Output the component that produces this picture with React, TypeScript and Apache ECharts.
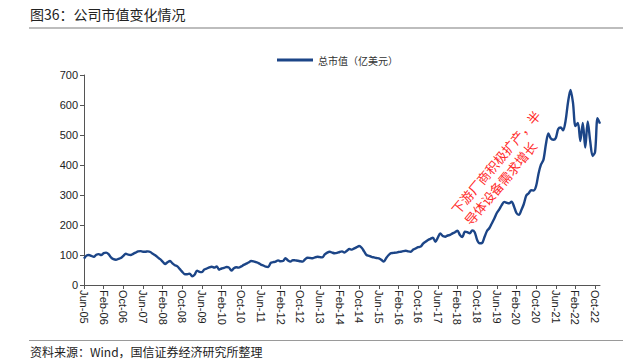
import React, { useEffect, useRef } from "react";
import * as echarts from "echarts";

const TITLE = "图36：公司市值变化情况";
const SOURCE = "资料来源：Wind，国信证券经济研究所整理";
const SERIES_NAME = "总市值（亿美元）";
const NOTE_LINES = ["下游厂商积极扩产，半", "导体设备需求增长"];

const MONTHS = ["Jan", "Feb", "Mar", "Apr", "May", "Jun", "Jul", "Aug", "Sep", "Oct", "Nov", "Dec"];
// Monthly from Jun-05 to Dec-22
const START_YEAR = 2005;
const START_MONTH = 5; // June (0-based)

const VALUES: number[] = [
  88, 98, 100, 97, 94, 101, 103, 100, 106, 108,
  103, 92, 86, 84, 87, 90, 97, 104, 101, 100,
  104, 108, 112, 113, 111, 111, 112, 110, 104, 99,
  92, 86, 78, 70, 76, 80, 72, 66, 62, 53,
  44, 36, 36, 38, 29, 34, 48, 44, 43, 52,
  55, 59, 61, 58, 62, 51, 55, 57, 60, 58,
  48, 56, 59, 58, 62, 67, 71, 75, 80, 79,
  76, 73, 68, 65, 61, 60, 74, 76, 78, 82,
  79, 80, 89, 82, 78, 83, 82, 81, 79, 78,
  86, 91, 90, 89, 92, 94, 93, 92, 102, 108,
  111, 108, 106, 107, 110, 112, 108, 114, 120, 118,
  122, 126, 130, 124, 112, 100, 97, 94, 92, 90,
  89, 84, 78, 90, 100, 106, 107, 108, 110, 111,
  113, 114, 112, 111, 118, 122, 126, 128, 138, 144,
  150, 154, 158, 144, 158, 172, 163, 161, 165, 167,
  172, 176, 181, 167, 160, 178, 176, 172, 182, 176,
  150, 139, 140, 160, 180, 190, 206, 222, 240, 252,
  266, 277, 274, 272, 278, 262, 240, 234, 250, 270,
  298, 306, 316, 315, 330, 372, 402, 418, 470, 505,
  488, 484, 490, 520, 525, 516, 548, 610, 650, 608,
  530, 540, 480, 540, 458, 545, 480, 430, 444, 556,
  538,
];

const CATEGORIES: string[] = VALUES.map((_, i) => {
  const m = START_MONTH + i;
  const y = START_YEAR + Math.floor(m / 12);
  return `${MONTHS[m % 12]}-${String(y % 100).padStart(2, "0")}`;
});

const Y_TICKS = [0, 100, 200, 300, 400, 500, 600, 700];

export default function App() {
  const ref = useRef<HTMLDivElement>(null);
  useEffect(() => {
    if (!ref.current) return;
    const chart = echarts.init(ref.current, null, { renderer: "svg" });
    const rot = (50 * Math.PI) / 180;
    chart.setOption({
      animation: false,
      backgroundColor: "#ffffff",
      textStyle: { fontFamily: "Liberation Sans, Arial, sans-serif" },
      grid: { left: 84, right: 30, top: 75, bottom: 76, containLabel: false },
      legend: {
        top: 50,
        left: 272,
        itemWidth: 36,
        itemHeight: 3,
        itemGap: 4,
        icon: "rect",
        data: [SERIES_NAME],
        textStyle: { fontFamily: "Noto Sans CJK SC", fontSize: 10, color: "#333" },
      },
      xAxis: {
        type: "category",
        data: CATEGORIES,
        boundaryGap: false,
        axisLine: { lineStyle: { color: "#555", width: 1 } },
        axisTick: { interval: 7, length: 4, lineStyle: { color: "#555" } },
        axisLabel: {
          interval: 7,
          rotate: -90,
          fontSize: 11,
          color: "#222",
          margin: 5,
          fontFamily: "Liberation Sans, Arial, sans-serif",
        },
        splitLine: { show: false },
      },
      yAxis: {
        type: "value",
        min: Y_TICKS[0],
        max: Y_TICKS[Y_TICKS.length - 1],
        interval: 100,
        axisLine: { show: true, lineStyle: { color: "#555", width: 1 } },
        axisTick: { show: true, length: 4, lineStyle: { color: "#555" } },
        axisLabel: { fontSize: 11, color: "#222", margin: 6 },
        splitLine: { show: false },
      },
      series: [
        {
          name: SERIES_NAME,
          type: "line",
          data: VALUES,
          showSymbol: false,
          smooth: 0.3,
          lineStyle: { color: "#1c4587", width: 2.4 },
          itemStyle: { color: "#1c4587" },
        },
      ],
      graphic: [
        {
          type: "text",
          left: 30,
          top: 7,
          style: {
            text: TITLE,
            font: "14px 'Noto Sans CJK SC'",
            fill: "#222",
          },
        },
        {
          type: "line",
          shape: { x1: 29, y1: 28, x2: 623, y2: 28 },
          style: { stroke: "#bdbdbd", lineWidth: 2 },
        },
        {
          type: "line",
          shape: { x1: 29, y1: 340.5, x2: 623, y2: 340.5 },
          style: { stroke: "#9a9a9a", lineWidth: 1 },
        },
        {
          type: "text",
          left: 30,
          top: 345,
          style: {
            text: SOURCE,
            font: "12px 'Noto Sans CJK SC'",
            fill: "#222",
          },
        },
        {
          type: "text",
          x: 454,
          y: 212,
          rotation: rot,
          style: {
            text: NOTE_LINES[0],
            font: "13px 'Noto Sans CJK SC'",
            fill: "#ff2a2a",
            textAlign: "left",
            textVerticalAlign: "middle",
          },
        },
        {
          type: "text",
          x: 467,
          y: 223,
          rotation: rot,
          style: {
            text: NOTE_LINES[1],
            font: "13px 'Noto Sans CJK SC'",
            fill: "#ff2a2a",
            textAlign: "left",
            textVerticalAlign: "middle",
          },
        },
      ],
    });
    return () => chart.dispose();
  }, []);
  return (
    <div
      ref={ref}
      style={{ position: "fixed", left: 0, top: 0, width: 630, height: 361 }}
    />
  );
}
